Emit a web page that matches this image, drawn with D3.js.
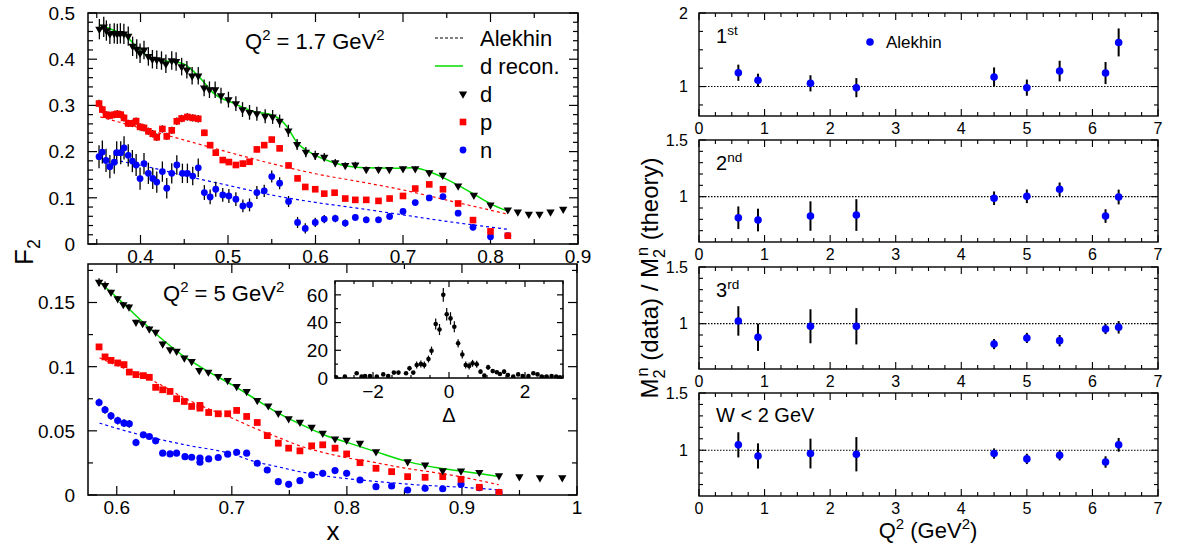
<!DOCTYPE html>
<html><head><meta charset="utf-8">
<script src="https://cdn.jsdelivr.net/npm/d3@7"></script>
<style>
body{margin:0;background:#fff}
svg{display:block}
text{font-family:"Liberation Sans",Arial,sans-serif;fill:#000}
</style>
</head><body>
<svg id="c" width="1196" height="546"></svg>
<script>
// ================= DATA =================
// Top-left panel, Q^2 = 1.7 GeV^2 : [x, F2, err]
const dTop = [[0.353,0.465,0.022],[0.358,0.470,0.022],[0.361,0.462,0.022],[0.365,0.455,0.022],[0.370,0.456,0.022],[0.3735,0.455,0.022],[0.377,0.456,0.022],[0.381,0.455,0.022],[0.386,0.450,0.021],[0.391,0.428,0.021],[0.3957,0.422,0.021],[0.3995,0.413,0.021],[0.404,0.420,0.02],[0.409,0.406,0.02],[0.4136,0.400,0.02],[0.4186,0.399,0.02],[0.424,0.397,0.02],[0.429,0.390,0.02],[0.4357,0.397,0.02],[0.4407,0.395,0.02],[0.447,0.384,0.019],[0.453,0.377,0.019],[0.459,0.364,0.019],[0.466,0.364,0.019],[0.4727,0.338,0.018],[0.4788,0.334,0.018],[0.4853,0.334,0.018],[0.492,0.321,0.017],[0.5005,0.3125,0.017],[0.509,0.304,0.016],[0.5166,0.291,0.016],[0.5246,0.285,0.016],[0.533,0.282,0.015],[0.5425,0.2765,0.015],[0.551,0.275,0.015],[0.559,0.266,0.014],[0.569,0.245,0.013],[0.579,0.2155,0.012],[0.589,0.199,0.011],[0.5997,0.192,0.01],[0.610,0.188,0.009],[0.6226,0.176,0.008],[0.634,0.170,0.007],[0.6455,0.171,0.007],[0.658,0.1616,0.006],[0.672,0.1616,0.006],[0.6844,0.1616,0.005],[0.700,0.163,0.005],[0.714,0.163,0.005],[0.730,0.1545,0.005],[0.7454,0.149,0.004],[0.763,0.1256,0.004],[0.781,0.1056,0.004],[0.800,0.0847,0.004],[0.8198,0.074,0.003],[0.8312,0.0696,0],[0.8438,0.0647,0],[0.856,0.0647,0],[0.8686,0.0696,0],[0.8831,0.0754,0]];
const pTop = [[0.3526,0.304,0.008],[0.3564,0.291,0.008],[0.3606,0.280,0.008],[0.365,0.278,0.008],[0.370,0.280,0.008],[0.3735,0.2817,0.008],[0.3774,0.280,0.008],[0.3812,0.273,0.008],[0.386,0.261,0.008],[0.3907,0.261,0.008],[0.395,0.266,0.008],[0.3995,0.2535,0.008],[0.404,0.2514,0.008],[0.409,0.244,0.008],[0.414,0.2385,0.008],[0.4186,0.231,0.008],[0.425,0.249,0.008],[0.430,0.233,0.008],[0.4357,0.246,0.008],[0.4415,0.2657,0.008],[0.447,0.2716,0.008],[0.4536,0.275,0.008],[0.4597,0.273,0.008],[0.466,0.271,0.008],[0.473,0.2407,0.007],[0.4796,0.214,0.007],[0.486,0.1976,0.007],[0.494,0.1817,0.006],[0.501,0.1774,0.006],[0.509,0.171,0.006],[0.517,0.174,0.006],[0.5246,0.178,0.006],[0.533,0.2047,0.006],[0.5414,0.214,0.006],[0.550,0.226,0.006],[0.559,0.207,0.006],[0.5692,0.170,0.005],[0.5795,0.142,0.005],[0.5883,0.1235,0.004],[0.5997,0.1185,0.004],[0.610,0.109,0.004],[0.6218,0.111,0.004],[0.634,0.0984,0.003],[0.6455,0.0955,0.003],[0.658,0.0955,0.003],[0.672,0.0933,0.003],[0.6847,0.0984,0.003],[0.700,0.104,0.003],[0.714,0.120,0.003],[0.730,0.129,0.003],[0.7457,0.1185,0.003],[0.763,0.0877,0.003],[0.780,0.0517,0.003],[0.800,0.0273,0.002],[0.8198,0.0179,0.002]];
const nTop = [[0.3526,0.189,0.025],[0.3564,0.199,0.025],[0.3606,0.181,0.025],[0.365,0.1674,0.025],[0.370,0.177,0.025],[0.3728,0.1976,0.025],[0.3774,0.1976,0.025],[0.3812,0.208,0.025],[0.386,0.192,0.024],[0.3907,0.1795,0.024],[0.395,0.171,0.024],[0.3995,0.1416,0.024],[0.404,0.174,0.023],[0.409,0.153,0.023],[0.414,0.142,0.023],[0.4186,0.134,0.023],[0.425,0.1567,0.022],[0.430,0.1207,0.022],[0.4357,0.153,0.022],[0.4415,0.171,0.021],[0.4479,0.153,0.021],[0.4536,0.153,0.021],[0.4597,0.147,0.02],[0.466,0.165,0.02],[0.473,0.1114,0.016],[0.4796,0.102,0.016],[0.486,0.1185,0.016],[0.494,0.1063,0.015],[0.501,0.104,0.015],[0.509,0.097,0.015],[0.517,0.0825,0.014],[0.5246,0.0847,0.014],[0.533,0.1114,0.014],[0.5414,0.115,0.013],[0.550,0.146,0.013],[0.559,0.1315,0.013],[0.5692,0.092,0.012],[0.5795,0.0467,0.012],[0.5883,0.0338,0.011],[0.5997,0.0467,0.01],[0.610,0.0539,0.009],[0.6226,0.0553,0.008],[0.634,0.0453,0.008],[0.6455,0.0575,0.007],[0.658,0.0524,0.007],[0.672,0.0524,0.007],[0.6847,0.0597,0.007],[0.700,0.0704,0.006],[0.714,0.0898,0.006],[0.730,0.0998,0.006],[0.7457,0.1027,0.006],[0.763,0.0668,0.006],[0.780,0.036,0.006],[0.800,0.0157,0.005],[0.8198,0.0179,0.004]];
const greenTop = [[0.354,0.474],[0.370,0.462],[0.384,0.449],[0.400,0.418],[0.4186,0.399],[0.435,0.395],[0.449,0.390],[0.458,0.378],[0.468,0.360],[0.483,0.327],[0.506,0.305],[0.529,0.287],[0.552,0.278],[0.567,0.255],[0.578,0.222],[0.598,0.194],[0.621,0.176],[0.655,0.165],[0.690,0.164],[0.712,0.165],[0.728,0.158],[0.750,0.140],[0.781,0.108],[0.800,0.087],[0.819,0.072]];
const pAlekTop = [[0.354,0.275],[0.400,0.251],[0.450,0.225],[0.500,0.199],[0.550,0.174],[0.600,0.152],[0.650,0.135],[0.700,0.117],[0.750,0.095],[0.819,0.065]];
const nAlekTop = [[0.370,0.182],[0.420,0.162],[0.450,0.148],[0.500,0.127],[0.550,0.106],[0.600,0.090],[0.650,0.077],[0.700,0.063],[0.750,0.049],[0.819,0.032]];

// Bottom-left panel, Q^2 = 5 GeV^2 : [x, F2, err]
const dBot = [[0.5846,0.1659,0.003],[0.5898,0.1633,0.003],[0.595,0.158,0.002],[0.6008,0.153,0.002],[0.6057,0.1484,0.002],[0.6106,0.1466,0.002],[0.6167,0.1346,0.002],[0.6225,0.1336,0.002],[0.6283,0.1294,0.002],[0.6338,0.1268,0.002],[0.6399,0.1177,0.002],[0.6463,0.1133,0.001],[0.652,0.112,0.001],[0.6587,0.1068,0.001],[0.6651,0.1041,0.001],[0.6717,0.0971,0.002],[0.6796,0.0958,0.001],[0.6882,0.0924,0.001],[0.6964,0.0893,0.001],[0.7042,0.0846,0.001],[0.7129,0.0807,0.001],[0.7221,0.0737,0.001],[0.7317,0.0695,0.001],[0.7404,0.0638,0.001],[0.7494,0.0594,0.001],[0.7592,0.0568,0.001],[0.7694,0.0529,0.001],[0.779,0.0482,0],[0.7897,0.0438,0],[0.7998,0.0427,0],[0.8114,0.0404,0],[0.8253,0.0338,0],[0.8528,0.026,0],[0.868,0.0234,0],[0.8833,0.019,0],[0.8992,0.0188,0],[0.9151,0.0177,0],[0.9322,0.0151,0],[0.9499,0.0143,0],[0.9678,0.0135,0],[0.9872,0.0135,0]];
const pBot = [[0.5846,0.1154,0.002],[0.5898,0.1076,0.002],[0.595,0.1049,0.001],[0.6008,0.1029,0.001],[0.6063,0.1016,0.001],[0.6109,0.0958,0.001],[0.6167,0.0938,0.001],[0.6231,0.093,0.001],[0.6283,0.0917,0.001],[0.6338,0.0839,0.001],[0.6399,0.082,0.001],[0.6463,0.0807,0.001],[0.652,0.075,0.001],[0.6587,0.0729,0.001],[0.6651,0.069,0.001],[0.6723,0.0698,0.001],[0.6723,0.0677,0.001],[0.6799,0.0643,0.001],[0.6882,0.0633,0.001],[0.6964,0.0633,0.001],[0.7042,0.0659,0.001],[0.7129,0.0612,0.001],[0.7221,0.0565,0.001],[0.7308,0.0463,0.001],[0.7404,0.0404,0.001],[0.7494,0.0365,0.001],[0.7592,0.0344,0.001],[0.7694,0.0383,0.001],[0.779,0.0391,0.001],[0.7897,0.0365,0.001],[0.7998,0.032,0.001],[0.8114,0.0252,0.001],[0.8253,0.0208,0.001],[0.8389,0.0182,0.001],[0.8528,0.0143,0.001],[0.868,0.0138,0.001],[0.8833,0.0143,0.001],[0.8992,0.0122,0.001],[0.9151,0.006,0.001],[0.9322,0.002,0.001]];
const nBot = [[0.5846,0.0721,0.003],[0.5898,0.0664,0.003],[0.595,0.0617,0.003],[0.6008,0.058,0.003],[0.6063,0.056,0.003],[0.6109,0.0555,0.003],[0.6167,0.0409,0.003],[0.6231,0.0469,0.002],[0.6283,0.0456,0.002],[0.6338,0.0422,0.002],[0.6399,0.0326,0.002],[0.6463,0.032,0.002],[0.652,0.0326,0.002],[0.6593,0.0299,0.002],[0.6651,0.0294,0.002],[0.6723,0.0287,0.002],[0.6723,0.0255,0.002],[0.6799,0.0281,0.002],[0.6882,0.0292,0.002],[0.6964,0.0318,0.002],[0.7042,0.0333,0.002],[0.7129,0.0326,0.002],[0.7221,0.0247,0.002],[0.7308,0.0195,0.002],[0.7404,0.0104,0.002],[0.7494,0.0083,0.002],[0.7592,0.0112,0.002],[0.7694,0.0156,0.002],[0.779,0.0169,0.002],[0.7897,0.019,0.002],[0.7998,0.0169,0.002],[0.8114,0.0117,0.002],[0.8253,0.0065,0.002],[0.8389,0.007,0.002],[0.8528,0.0039,0.002],[0.868,0.0052,0.002],[0.8833,0.0049,0.002],[0.8992,0.0083,0.002],[0.9151,0.0057,0.002],[0.9322,0.002,0.002]];
const greenBot = [[0.585,0.166],[0.600,0.154],[0.620,0.137],[0.640,0.121],[0.660,0.107],[0.680,0.096],[0.700,0.086],[0.720,0.075],[0.740,0.064],[0.760,0.055],[0.780,0.047],[0.800,0.041],[0.825,0.0338],[0.853,0.026],[0.880,0.021],[0.900,0.0185],[0.932,0.0145]];
const pAlekBot = [[0.585,0.107],[0.600,0.101],[0.620,0.094],[0.640,0.085],[0.660,0.075],[0.680,0.067],[0.700,0.060],[0.720,0.052],[0.740,0.045],[0.760,0.038],[0.780,0.033],[0.800,0.029],[0.820,0.026],[0.850,0.021],[0.880,0.017],[0.900,0.014],[0.932,0.008]];
const nAlekBot = [[0.585,0.056],[0.620,0.047],[0.660,0.039],[0.700,0.032],[0.720,0.026],[0.740,0.022],[0.760,0.018],[0.780,0.015],[0.820,0.011],[0.860,0.008],[0.900,0.006],[0.932,0.004]];

// Inset: [Delta, counts, err]
const insetPts = [[-2.97,0.5,0.6],[-2.74,1,0.8],[-2.43,3.4,1.2],[-2.30,1,0.8],[-2.21,1.4,0.8],[-2.08,1.4,0.8],[-1.90,1,0.8],[-1.73,2.6,1],[-1.60,1.4,0.8],[-1.45,3.9,1.2],[-1.33,3.9,1.2],[-1.13,3.4,1.2],[-1.04,7,1.8],[-0.94,3.9,1.2],[-0.85,9.4,2.5],[-0.74,10.1,2.5],[-0.65,9.4,2.5],[-0.54,13.7,2.5],[-0.46,19.7,3],[-0.35,39,4],[-0.25,35,4],[-0.15,60,5],[-0.06,46,4.5],[0.04,43,4.5],[0.14,37,4],[0.24,25,3],[0.35,17,3],[0.44,9.4,2.5],[0.53,8.7,2.5],[0.62,10.6,2.5],[0.73,9.9,2.5],[0.83,4.6,1.5],[0.93,1.7,1],[1.03,7.7,1.8],[1.15,5,1.5],[1.26,4.1,1.2],[1.34,2.9,1],[1.45,4.6,1.5],[1.55,2.2,1],[1.69,1,0.8],[1.82,2.6,1],[1.94,1.4,0.8],[2.09,1.4,0.8],[2.22,3.4,1.2],[2.33,2.6,1],[2.44,1,0.8],[2.57,1,0.8],[2.70,1.4,0.8],[2.82,1,0.8],[2.92,0.5,0.6]];

// Right panels: moment ratios vs Q^2
const q2 = [0.6,0.9,1.7,2.4,4.5,5.0,5.5,6.2,6.4];
const ratio1 = [1.188,1.085,1.044,0.985,1.13,0.985,1.211,1.184,1.60];
const err1   = [0.11,0.09,0.11,0.13,0.13,0.11,0.14,0.15,0.19];
const ratio2 = [0.814,0.794,0.829,0.838,0.986,1.003,1.065,0.829,0.997];
const err2   = [0.10,0.10,0.13,0.14,0.06,0.06,0.06,0.06,0.065];
const ratio3 = [1.024,0.88,0.977,0.977,0.82,0.874,0.85,0.953,0.968];
const err3   = [0.13,0.12,0.15,0.16,0.045,0.045,0.05,0.045,0.055];
const ratio4 = [1.047,0.950,0.971,0.965,0.971,0.924,0.956,0.897,1.047];
const err4   = [0.11,0.11,0.13,0.15,0.045,0.045,0.045,0.05,0.06];
const panelLabels = [["1","st"],["2","nd"],["3","rd"],["W < 2 GeV",""]];

// Tick values
const xTopMajor = [0.4,0.5,0.6,0.7,0.8,0.9];
const yTopMajor = [0,0.1,0.2,0.3,0.4,0.5];
const xBotMajor = [0.6,0.7,0.8,0.9,1];
const yBotMajor = [0,0.05,0.1,0.15];
const xInsMajor = [-2,0,2];
const yInsMajor = [0,20,40,60];
const xRMajor = [0,1,2,3,4,5,6,7];

// ================= DRAW =================
const svg = d3.select("#c");
const fmt = d3.format("~g");

function rich(g, x, y, parts, size, anchor, rot) {
  const t = g.append("text").attr("x", x).attr("y", y).attr("font-size", size)
    .attr("text-anchor", anchor || "start");
  if (rot) t.attr("transform", `rotate(-90,${x},${y})`);
  let shift = 0;
  parts.forEach(p => {
    const s = p[0], k = p[1], dx = p[2] || 0;
    const target = k === "sup" ? -0.42 * size : (k === "sub" ? 0.28 * size : 0);
    const ts = t.append("tspan").attr("dy", target - shift).attr("font-size", k ? size * 0.68 : size).text(s);
    if (dx) ts.attr("dx", dx);
    shift = target;
  });
  return t;
}

function frame(x, y, o) {
  const g = svg.append("g");
  const [x0, x1] = x.range(), [y0, y1] = y.range(); // y0 bottom, y1 top
  const M = o.major || 8, m = o.minor || 4;
  const sw = o.sw || 1.2;
  const tick = (vals, len, axis) => {
    vals.forEach(v => {
      if (axis === "x") {
        const px = x(v);
        g.append("line").attr("x1", px).attr("x2", px).attr("y1", y0).attr("y2", y0 - len).attr("stroke", "#000").attr("stroke-width", sw);
        g.append("line").attr("x1", px).attr("x2", px).attr("y1", y1).attr("y2", y1 + len).attr("stroke", "#000").attr("stroke-width", sw);
      } else {
        const py = y(v);
        g.append("line").attr("y1", py).attr("y2", py).attr("x1", x0).attr("x2", x0 + len).attr("stroke", "#000").attr("stroke-width", sw);
        g.append("line").attr("y1", py).attr("y2", py).attr("x1", x1).attr("x2", x1 - len).attr("stroke", "#000").attr("stroke-width", sw);
      }
    });
  };
  tick(o.xMinor, m, "x"); tick(o.xMajor, M, "x");
  tick(o.yMinor, m, "y"); tick(o.yMajor, M, "y");
  g.append("rect").attr("x", x0).attr("y", y1).attr("width", x1 - x0).attr("height", y0 - y1)
    .attr("fill", "none").attr("stroke", "#000").attr("stroke-width", sw + 0.3);
  const xl = o.xLabels || o.xMajor, yl = o.yLabels || o.yMajor;
  xl.forEach(v => g.append("text").attr("x", x(v)).attr("y", y0 + o.xPad).attr("text-anchor", "middle")
    .attr("font-size", o.fs).text(fmt(v)));
  yl.forEach(v => g.append("text").attr("x", x0 - o.yPad).attr("y", y(v)).attr("dy", "0.36em").attr("text-anchor", "end")
    .attr("font-size", o.fs).text(fmt(v)));
  return g;
}

const stepRange = (a, b, s) => d3.range(Math.round((b - a) / s) + 1).map(i => +(a + i * s).toFixed(6));
const notIn = (arr, maj) => arr.filter(v => !maj.some(w => Math.abs(w - v) < 1e-6));

// ---------- top-left ----------
const xA = d3.scaleLinear().domain([0.34, 0.9]).range([88, 578]);
const yA = d3.scaleLinear().domain([0, 0.5]).range([244, 13]);
frame(xA, yA, {xMajor: xTopMajor, xMinor: notIn(stepRange(0.35, 0.85, 0.05), xTopMajor),
  yMajor: yTopMajor, yMinor: notIn(stepRange(0, 0.5, 0.02), yTopMajor), fs: 19, xPad: 19, yPad: 13, major: 9, minor: 5});

// ---------- bottom-left ----------
const xB = d3.scaleLinear().domain([0.575, 1]).range([88, 577]);
const yB = d3.scaleLinear().domain([0, 0.18]).range([495, 264]);
frame(xB, yB, {xMajor: xBotMajor, xMinor: notIn(stepRange(0.6, 0.95, 0.05), xBotMajor),
  yMajor: yBotMajor, yMinor: notIn(stepRange(0, 0.175, 0.025), yBotMajor), fs: 19, xPad: 19, yPad: 13, major: 9, minor: 5});

function drawSeries(xs, ys, clipId, pts, kind, color, size) {
  const g = svg.append("g").attr("clip-path", `url(#${clipId})`);
  g.selectAll(null).data(pts.filter(d => d[2] > 0)).join("line")
    .attr("x1", d => xs(d[0])).attr("x2", d => xs(d[0]))
    .attr("y1", d => ys(d[1] - d[2])).attr("y2", d => ys(d[1] + d[2]))
    .attr("stroke", "#000").attr("stroke-width", 1.3);
  let sym;
  if (kind === "tri") sym = d3.symbol(d3.symbolTriangle, size);
  else if (kind === "sq") sym = d3.symbol(d3.symbolSquare, size);
  else sym = d3.symbol(d3.symbolCircle, size);
  g.selectAll(null).data(pts).join("path").attr("d", sym)
    .attr("transform", d => `translate(${xs(d[0])},${ys(d[1])})` + (kind === "tri" ? " rotate(180)" : ""))
    .attr("fill", color);
}
function drawLine(xs, ys, clipId, pts, color, dash, w) {
  const line = d3.line().x(d => xs(d[0])).y(d => ys(d[1])).curve(d3.curveMonotoneX);
  svg.append("path").attr("clip-path", `url(#${clipId})`).datum(pts).attr("d", line)
    .attr("fill", "none").attr("stroke", color).attr("stroke-width", w || 1.3)
    .attr("stroke-dasharray", dash || null);
}
const defs = svg.append("defs");
function clip(id, xs, ys) {
  defs.append("clipPath").attr("id", id).append("rect")
    .attr("x", xs.range()[0]).attr("y", ys.range()[1])
    .attr("width", xs.range()[1] - xs.range()[0]).attr("height", ys.range()[0] - ys.range()[1]);
}
clip("cA", xA, yA); clip("cB", xB, yB);

// top-left curves and data
drawLine(xA, yA, "cA", pAlekTop, "#ff0000", "3,3", 1.2);
drawLine(xA, yA, "cA", nAlekTop, "#0000ff", "3,3", 1.2);
drawSeries(xA, yA, "cA", nTop, "circ", "#0000ff", 36);
drawSeries(xA, yA, "cA", pTop, "sq", "#ff0000", 44);
drawLine(xA, yA, "cA", greenTop, "#00dd00", null, 1.5);
drawSeries(xA, yA, "cA", dTop, "tri", "#000", 30);

// bottom-left
drawLine(xB, yB, "cB", pAlekBot, "#ff0000", "3,3", 1.2);
drawLine(xB, yB, "cB", nAlekBot, "#0000ff", "3,3", 1.2);
drawSeries(xB, yB, "cB", nBot, "circ", "#0000ff", 40);
drawSeries(xB, yB, "cB", pBot, "sq", "#ff0000", 46);
drawLine(xB, yB, "cB", greenBot, "#00dd00", null, 1.5);
drawSeries(xB, yB, "cB", dBot, "tri", "#000", 30);

// legend top-left
const lg = svg.append("g");
rich(lg, 245, 49, [["Q"], ["2", "sup"], [" = 1.7 GeV", null], ["2", "sup"]], 22);
lg.append("line").attr("x1", 435).attr("x2", 463).attr("y1", 38).attr("y2", 38).attr("stroke", "#000").attr("stroke-width", 1.2).attr("stroke-dasharray", "3,2");
lg.append("line").attr("x1", 435).attr("x2", 463).attr("y1", 66).attr("y2", 66).attr("stroke", "#00dd00").attr("stroke-width", 1.5);
lg.append("path").attr("d", d3.symbol(d3.symbolTriangle, 30)).attr("transform", "translate(463,94) rotate(180)").attr("fill", "#000");
lg.append("path").attr("d", d3.symbol(d3.symbolSquare, 44)).attr("transform", "translate(463,122)").attr("fill", "#ff0000");
lg.append("path").attr("d", d3.symbol(d3.symbolCircle, 36)).attr("transform", "translate(463,150)").attr("fill", "#0000ff");
[["Alekhin", 38], ["d recon.", 66], ["d", 94], ["p", 122], ["n", 150]].forEach(([t, yy]) =>
  lg.append("text").attr("x", 480).attr("y", yy).attr("dy", "0.36em").attr("font-size", 22).text(t));

rich(svg, 163, 301, [["Q"], ["2", "sup"], [" = 5 GeV", null], ["2", "sup"]], 22);

// ---------- inset ----------
const xI = d3.scaleLinear().domain([-3, 3]).range([335, 563]);
const yI = d3.scaleLinear().domain([0, 70]).range([378, 281]);
svg.append("rect").attr("x", 335).attr("y", 281).attr("width", 228).attr("height", 97).attr("fill", "#fff");
frame(xI, yI, {xMajor: xInsMajor, xMinor: notIn(stepRange(-3, 3, 0.5), xInsMajor),
  yMajor: yInsMajor, yMinor: [10, 30, 50], fs: 19, xPad: 20, yPad: 7, major: 6, minor: 3});
clip("cI", xI, yI);
{
  const g = svg.append("g").attr("clip-path", "url(#cI)");
  g.selectAll(null).data(insetPts).join("line")
    .attr("x1", d => xI(d[0])).attr("x2", d => xI(d[0]))
    .attr("y1", d => yI(d[1] - d[2])).attr("y2", d => yI(d[1] + d[2]))
    .attr("stroke", "#000").attr("stroke-width", 1.2);
  g.selectAll(null).data(insetPts).join("circle")
    .attr("cx", d => xI(d[0])).attr("cy", d => yI(d[1])).attr("r", 2.3).attr("fill", "#000");
}
svg.append("text").attr("x", 449).attr("y", 422).attr("text-anchor", "middle").attr("font-size", 20).text("Δ");

// axis titles left
rich(svg, 33, 252, [["F"], ["2", "sub"]], 26, "middle", true);
svg.append("text").attr("x", 333).attr("y", 540).attr("text-anchor", "middle").attr("font-size", 26).text("x");

// ---------- right panels ----------
const xR = d3.scaleLinear().domain([0, 7]).range([699, 1158]);
const rPanels = [
  {dom: [0.6, 2], rng: [116, 13], vals: ratio1, errs: err1, yMaj: [1, 2], yMin: [0.75, 1.25, 1.5, 1.75]},
  {dom: [0.6, 1.5], rng: [242, 140], vals: ratio2, errs: err2, yMaj: [1, 1.5], yMin: [0.7, 0.8, 0.9, 1.1, 1.2, 1.3, 1.4]},
  {dom: [0.6, 1.5], rng: [369, 267], vals: ratio3, errs: err3, yMaj: [1, 1.5], yMin: [0.7, 0.8, 0.9, 1.1, 1.2, 1.3, 1.4]},
  {dom: [0.6, 1.5], rng: [496, 393], vals: ratio4, errs: err4, yMaj: [1, 1.5], yMin: [0.7, 0.8, 0.9, 1.1, 1.2, 1.3, 1.4]}
];
rPanels.forEach((P, i) => {
  const yR = d3.scaleLinear().domain(P.dom).range(P.rng);
  frame(xR, yR, {xMajor: xRMajor, xMinor: notIn(stepRange(0, 7, 0.25), xRMajor),
    yMajor: P.yMaj, yMinor: P.yMin, fs: 16, xPad: 18, yPad: 11, major: 7, minor: 4, sw: 1.1});
  svg.append("line").attr("x1", xR(0)).attr("x2", xR(7)).attr("y1", yR(1)).attr("y2", yR(1))
    .attr("stroke", "#000").attr("stroke-width", 1.1).attr("stroke-dasharray", "1.5,1.5");
  const g = svg.append("g");
  g.selectAll(null).data(q2).join("line")
    .attr("x1", (d) => xR(d)).attr("x2", (d) => xR(d))
    .attr("y1", (d, j) => yR(P.vals[j] - P.errs[j])).attr("y2", (d, j) => yR(P.vals[j] + P.errs[j]))
    .attr("stroke", "#000").attr("stroke-width", 2);
  g.selectAll(null).data(q2).join("circle")
    .attr("cx", d => xR(d)).attr("cy", (d, j) => yR(P.vals[j])).attr("r", 3.8).attr("fill", "#0000ff");
  const lab = panelLabels[i];
  if (lab[1]) rich(svg, 716, P.rng[1] + 30, [[lab[0]], [lab[1], "sup"]], 20);
  else svg.append("text").attr("x", 716).attr("y", P.rng[1] + 29).attr("font-size", 20).text(lab[0]);
  if (i === 0) {
    svg.append("circle").attr("cx", 870).attr("cy", 42).attr("r", 3.8).attr("fill", "#0000ff");
    svg.append("text").attr("x", 886).attr("y", 42).attr("dy", "0.36em").attr("font-size", 17).text("Alekhin");
  }
});

// right axis titles
rich(svg, 658, 278, [["M"], ["2", "sub"], ["n", "sup", -7], [" (data) / M", null], ["2", "sub"], ["n", "sup", -7], [" (theory)", null]], 24, "middle", true);
rich(svg, 928, 538, [["Q"], ["2", "sup"], [" (GeV", null], ["2", "sup"], [")", null]], 22, "middle");
</script>
</body></html>
